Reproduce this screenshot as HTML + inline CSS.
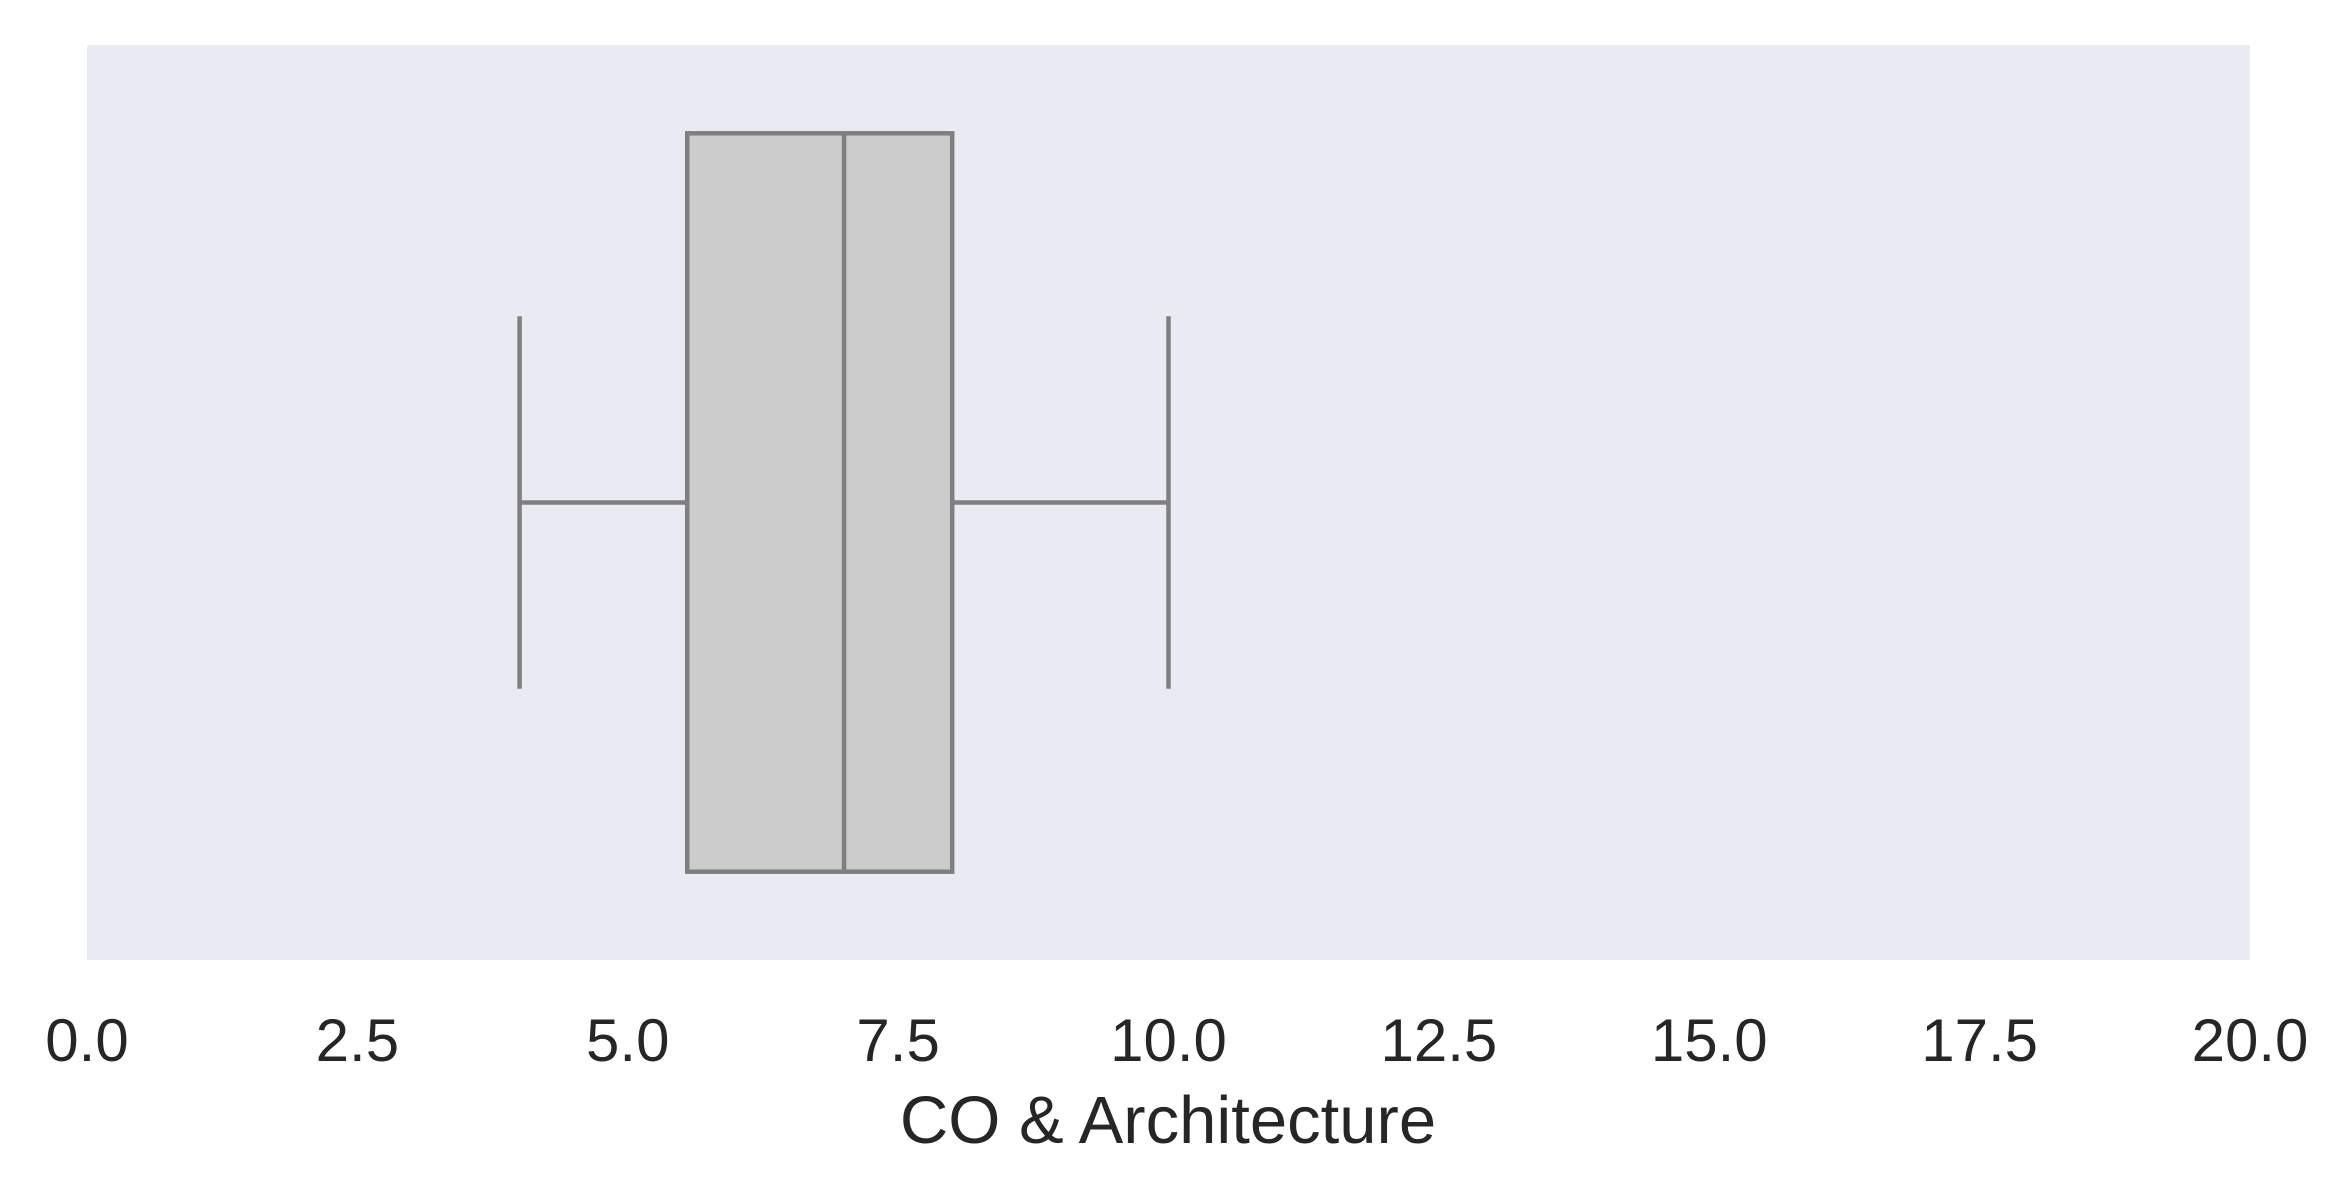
<!DOCTYPE html>
<html><head><meta charset="utf-8"><style>
html,body{margin:0;padding:0;background:#fff;}
svg{display:block;font-family:"Liberation Sans",sans-serif;}
</style></head><body>
<svg id="chart" width="2352" height="1196" viewBox="0 0 2352 1196">
<rect x="87" y="45" width="2163" height="915" fill="#eaeaf2"/>
<g id="marks"></g>
<g id="ticks"></g>
<text x="1168" y="1143" font-size="67" fill="#262626" text-anchor="middle">CO &amp; Architecture</text>
</svg>
<script>
const tickValues=[0,2.5,5,7.5,10,12.5,15,17.5,20];
const tickLabels=["0.0","2.5","5.0","7.5","10.0","12.5","15.0","17.5","20.0"];
const stats=[4,5.55,7,8,10]; // whislo, q1, median, q3, whishi
const xDomain=[0,20];
const L=87,R=2250,T=45,B=960;
const NS="http://www.w3.org/2000/svg";
function xs(v){return L+(v-xDomain[0])/(xDomain[1]-xDomain[0])*(R-L);}
const cy=(T+B)/2, bh=(B-T)*0.807, ch=(B-T)*0.407;
const marks=document.getElementById('marks');
function mk(tag,attrs,name){const e=document.createElementNS(NS,tag);for(const k in attrs)e.setAttribute(k,attrs[k]);


marks.appendChild(e);return e;}
const st={stroke:"#7f7f7f","stroke-width":4.5,fill:"none"};
mk('line',Object.assign({x1:xs(stats[0]),x2:xs(stats[1]),y1:cy,y2:cy},st),'lower-whisker');
mk('line',Object.assign({x1:xs(stats[3]),x2:xs(stats[4]),y1:cy,y2:cy},st),'upper-whisker');
mk('line',Object.assign({x1:xs(stats[0]),x2:xs(stats[0]),y1:cy-ch/2,y2:cy+ch/2},st),'lower-cap');
mk('line',Object.assign({x1:xs(stats[4]),x2:xs(stats[4]),y1:cy-ch/2,y2:cy+ch/2},st),'upper-cap');
mk('rect',{x:xs(stats[1]),y:cy-bh/2,width:xs(stats[3])-xs(stats[1]),height:bh,fill:"#cccccc",stroke:"#7f7f7f","stroke-width":4.5},'iqr-box');
mk('line',Object.assign({x1:xs(stats[2]),x2:xs(stats[2]),y1:cy-bh/2,y2:cy+bh/2},st),'median-line');
const tg=document.getElementById('ticks');
tickValues.forEach((v,i)=>{const t=document.createElementNS(NS,'text');
t.setAttribute('x',xs(v));t.setAttribute('y',1061);t.setAttribute('font-size',60);t.setAttribute('fill','#262626');t.setAttribute('text-anchor','middle');
t.textContent=tickLabels[i];


tg.appendChild(t);});
</script>
</body></html>
